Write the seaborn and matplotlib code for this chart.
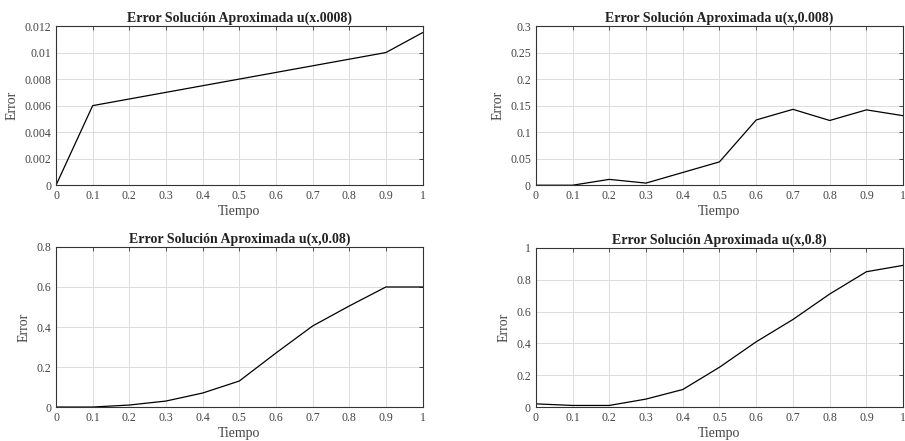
import matplotlib
matplotlib.use("Agg")
import matplotlib.pyplot as plt
import seaborn as sns
import pandas as pd

tiempo = [0, 0.1, 0.2, 0.3, 0.4, 0.5, 0.6, 0.7, 0.8, 0.9, 1.0]
err_0008 = [0, 0.006, 0.0065, 0.007, 0.0075, 0.008, 0.0085, 0.009, 0.0095, 0.010, 0.0115]
err_008 = [0, 0, 0.011, 0.004, 0.024, 0.044, 0.123, 0.143, 0.122, 0.142, 0.131]
err_08 = [0, 0, 0.01, 0.03, 0.07, 0.13, 0.27, 0.405, 0.505, 0.6, 0.6]
err_8 = [0.02, 0.01, 0.01, 0.05, 0.11, 0.25, 0.41, 0.55, 0.71, 0.85, 0.89]

titles = ["Error Solución Aproximada u(x.0008)",
          "Error Solución Aproximada u(x,0.008)",
          "Error Solución Aproximada u(x,0.08)",
          "Error Solución Aproximada u(x,0.8)"]
series = [err_0008, err_008, err_08, err_8]
ylims = [(0, 0.012), (0, 0.3), (0, 0.8), (0, 1)]
yticks = [[0, 0.002, 0.004, 0.006, 0.008, 0.01, 0.012],
          [0, 0.05, 0.1, 0.15, 0.2, 0.25, 0.3],
          [0, 0.2, 0.4, 0.6, 0.8],
          [0, 0.2, 0.4, 0.6, 0.8, 1]]
ytick_labels = [["0", "0.002", "0.004", "0.006", "0.008", "0.01", "0.012"],
                ["0", "0.05", "0.1", "0.15", "0.2", "0.25", "0.3"],
                ["0", "0.2", "0.4", "0.6", "0.8"],
                ["0", "0.2", "0.4", "0.6", "0.8", "1"]]
xticks = [0, 0.1, 0.2, 0.3, 0.4, 0.5, 0.6, 0.7, 0.8, 0.9, 1]
xtick_labels = ["0", "0.1", "0.2", "0.3", "0.4", "0.5", "0.6", "0.7", "0.8", "0.9", "1"]

sns.set_style("white")
plt.rcParams['font.family'] = ['Liberation Serif', 'DejaVu Serif']

fig = plt.figure(figsize=(9.05, 4.41), dpi=100)
positions = [
    [0.0619, 0.580, 0.405, 0.361],
    [0.592, 0.580, 0.406, 0.361],
    [0.0619, 0.077, 0.405, 0.363],
    [0.592, 0.077, 0.406, 0.361],
]

for pos, title, vals, yl, yt, ytl in zip(positions, titles, series, ylims, yticks, ytick_labels):
    ax = fig.add_axes(pos)
    df = pd.DataFrame({"Tiempo": tiempo, "Error": vals})
    sns.lineplot(data=df, x="Tiempo", y="Error", ax=ax, color="black", linewidth=0.9)
    ax.set_xlim(0, 1)
    ax.set_ylim(*yl)
    ax.set_xticks(xticks)
    ax.set_xticklabels(xtick_labels)
    ax.set_yticks(yt)
    ax.set_yticklabels(ytl)
    ax.grid(True, color="#dcdcdc", linewidth=0.7)
    ax.tick_params(direction="in", length=3, width=0.6, labelsize=8.5,
                   colors="#333333", top=True, right=True, labelcolor="#444444")
    for s in ax.spines.values():
        s.set_color("#333333")
        s.set_linewidth(0.8)
        s.set_visible(True)
    ax.set_title(title, fontsize=10, fontweight="bold", pad=3, color="#222222")
    ax.set_xlabel("Tiempo", fontsize=10, color="#444444", labelpad=2)
    ax.set_ylabel("Error", fontsize=10, color="#444444", labelpad=4)

fig.savefig("out.png", dpi=100)
